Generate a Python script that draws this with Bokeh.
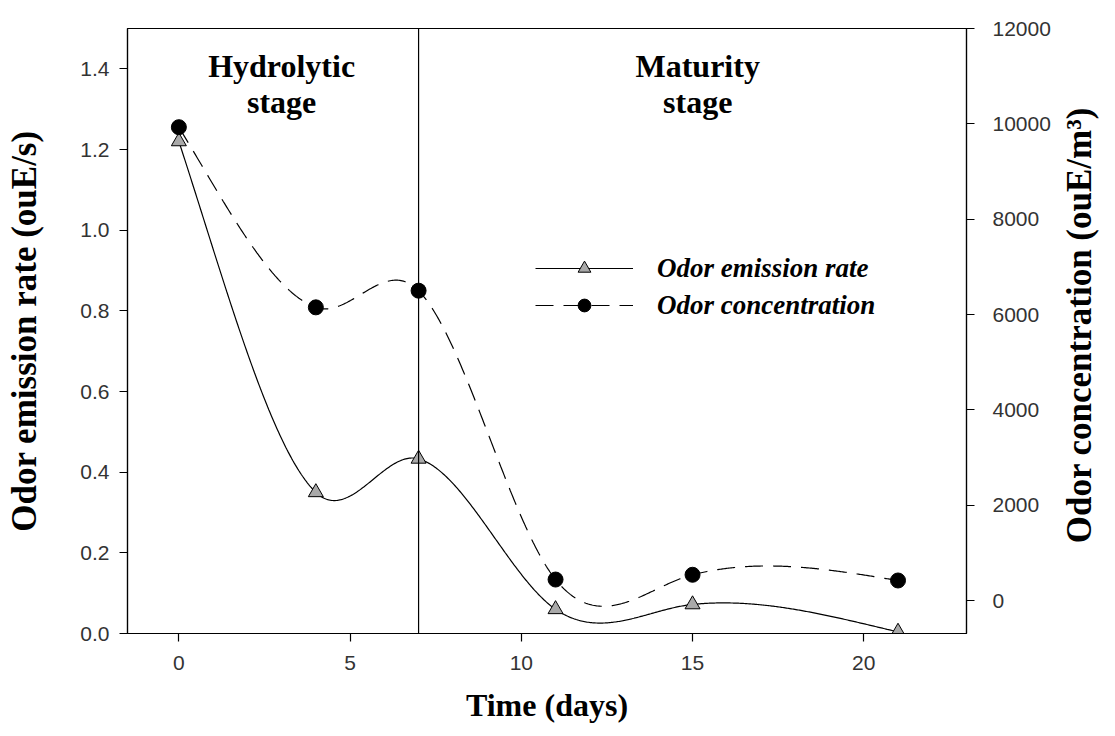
import numpy as np
from math import pi
from bokeh.plotting import figure
from bokeh.models import (Range1d, LinearAxis, FixedTicker, PrintfTickFormatter, Span,
                          Label, Legend, LegendItem)
from bokeh.embed import file_html
from bokeh.resources import INLINE

# ---------------- data ----------------
days = [0, 4, 7, 11, 15, 21]
emission_rate = [1.22, 0.35, 0.433, 0.06, 0.072, 0.004]      # ou_E/s
odor_concentration = [9930, 6150, 6500, 440, 540, 420]       # ou_E/m3
x_ticks = [0, 5, 10, 15, 20]
left_ticks = [0.0, 0.2, 0.4, 0.6, 0.8, 1.0, 1.2, 1.4]
right_ticks = [0, 2000, 4000, 6000, 8000, 10000, 12000]
stage_boundary = 7
right_title = "Odor concentration (ouE/m\u00b3)"
right_title_start = 1200   # value on the right scale where the rotated title starts


def smooth_curve(x, y, n=600):
    """Cubic Hermite curve through the points; tangents blend a natural
    spline and finite differences (a moderately tense spline)."""
    x = np.asarray(x, float)
    y = np.asarray(y, float)
    k = len(x)
    h = np.diff(x)
    A = np.zeros((k, k))
    b = np.zeros(k)
    A[0, 0] = 1
    A[-1, -1] = 1
    for i in range(1, k - 1):
        A[i, i - 1] = h[i - 1]
        A[i, i] = 2 * (h[i - 1] + h[i])
        A[i, i + 1] = h[i]
        b[i] = 3 * ((y[i + 1] - y[i]) / h[i] - (y[i] - y[i - 1]) / h[i - 1])
    c = np.linalg.solve(A, b)
    bb = (y[1:] - y[:-1]) / h - h * (2 * c[:-1] + c[1:]) / 3
    d = (c[1:] - c[:-1]) / (3 * h)
    m_nat = np.append(bb, bb[-1] + 2 * c[-2] * h[-1] + 3 * d[-1] * h[-1] ** 2)
    m_fd = np.zeros(k)
    m_fd[0] = (y[1] - y[0]) / h[0]
    m_fd[-1] = (y[-1] - y[-2]) / h[-1]
    m_fd[1:-1] = (y[2:] - y[:-2]) / (x[2:] - x[:-2])
    m = 0.5 * (m_nat + m_fd)
    xs = np.linspace(x[0], x[-1], n)
    idx = np.clip(np.searchsorted(x, xs, side="right") - 1, 0, k - 2)
    hh = h[idx]
    t = (xs - x[idx]) / hh
    h00 = 2 * t ** 3 - 3 * t ** 2 + 1
    h10 = t ** 3 - 2 * t ** 2 + t
    h01 = -2 * t ** 3 + 3 * t ** 2
    h11 = t ** 3 - t ** 2
    ys = h00 * y[idx] + h10 * hh * m[idx] + h01 * y[idx + 1] + h11 * hh * m[idx + 1]
    return xs, ys


ex, ey = smooth_curve(days, emission_rate)
cx, cy = smooth_curve(days, odor_concentration)

SERIF = "Liberation Serif"
SANS = "Liberation Sans"

p = figure(frame_width=839, frame_height=605,
           x_range=Range1d(-1.5, 23), y_range=Range1d(0, 1.5),
           output_backend="svg", toolbar_location=None,
           min_border_left=127, min_border_right=149,
           min_border_top=28, min_border_bottom=103,
           background_fill_color="white", border_fill_color="white")
p.extra_y_ranges = {"conc": Range1d(-692, 12000)}
p.xgrid.visible = False
p.ygrid.visible = False
p.outline_line_color = "black"
p.outline_line_width = 1.2
p.outline_line_alpha = 1

# stage boundary
p.add_layout(Span(location=stage_boundary, dimension="height",
                  line_color="black", line_width=1.2))

# curves
l1 = p.line(ex, ey, line_color="black", line_width=1.2)
l2 = p.line(cx, cy, line_color="black", line_width=1.2, line_dash="18 10",
            y_range_name="conc")
s1 = p.scatter(days, emission_rate, marker="triangle", size=15,
               fill_color="#a9a9a9", line_color="black", line_width=1)
s2 = p.scatter(days, odor_concentration, marker="circle", size=15,
               fill_color="black", line_color="black", y_range_name="conc")

# right axis (ticks)
ax_r = LinearAxis(y_range_name="conc", ticker=FixedTicker(ticks=right_ticks))
p.add_layout(ax_r, "right")

p.xaxis.ticker = FixedTicker(ticks=x_ticks)
p.yaxis[0].ticker = FixedTicker(ticks=left_ticks)
p.yaxis[0].formatter = PrintfTickFormatter(format="%.1f")

ax_l = p.yaxis[0]
ax_b = p.xaxis[0]
for ax in [ax_b, ax_l, ax_r]:
    ax.major_label_text_font = SANS
    ax.major_label_text_font_size = "21px"
    ax.major_label_text_color = "#333333"
    ax.axis_line_color = "black"
    ax.axis_line_width = 1.2
    ax.major_tick_line_color = "black"
    ax.major_tick_line_width = 1.2
    ax.major_tick_out = 8
    ax.major_tick_in = 0
    ax.minor_tick_out = 0
    ax.minor_tick_in = 0
    ax.minor_tick_line_color = None
    ax.axis_label_text_font = SERIF
    ax.axis_label_text_font_style = "bold"
    ax.axis_label_text_font_size = "35px"
    ax.axis_label_text_color = "black"

ax_l.major_label_standoff = 10
ax_r.major_label_standoff = 18
ax_b.major_label_standoff = 14

ax_b.axis_label = "Time (days)"
ax_b.axis_label_text_font_size = "32px"
ax_b.axis_label_standoff = 14
ax_l.axis_label = "Odor emission rate (ouE/s)"
ax_l.axis_label_standoff = 33

# right title: rotated (bottom-to-top) label of an outer, line-less axis
ax_t = LinearAxis(y_range_name="conc",
                  ticker=FixedTicker(ticks=[right_title_start]),
                  major_label_overrides={right_title_start: right_title},
                  major_label_orientation=pi / 2,
                  major_label_text_font=SERIF,
                  major_label_text_font_style="bold",
                  major_label_text_font_size="35px",
                  major_label_text_color="black",
                  major_label_standoff=26,
                  axis_line_color=None, major_tick_line_color=None,
                  minor_tick_line_color=None, major_tick_out=0, major_tick_in=0,
                  minor_tick_out=0, minor_tick_in=0)
p.add_layout(ax_t, "right")

# stage headings
for txt, xv, yv in [("Hydrolytic", 3.0, 1.406), ("stage", 3.0, 1.319),
                    ("Maturity", 15.15, 1.406), ("stage", 15.15, 1.319)]:
    p.add_layout(Label(x=xv, y=yv, text=txt, text_align="center",
                       text_baseline="alphabetic", text_font=SERIF,
                       text_font_style="bold", text_font_size="32px",
                       text_color="black"))

# legend
legend = Legend(items=[LegendItem(label="Odor emission rate", renderers=[l1, s1]),
                       LegendItem(label="Odor concentration", renderers=[l2, s2])],
                location=(408, 312), orientation="vertical",
                glyph_width=98, glyph_height=32, label_height=32,
                label_standoff=24, spacing=5, padding=0, margin=0,
                label_text_font=SERIF, label_text_font_style="bold italic",
                label_text_font_size="27px", label_text_color="black",
                border_line_alpha=0, background_fill_alpha=0)
p.add_layout(legend)

open("out.html", "w").write(file_html(p, INLINE))
